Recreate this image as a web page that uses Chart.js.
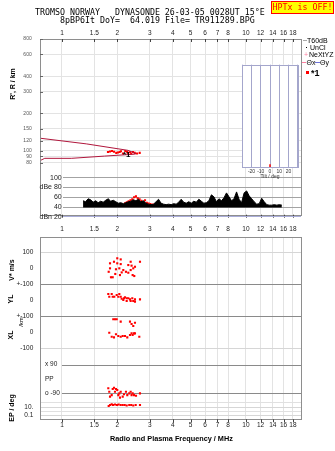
<!DOCTYPE html>
<html><head><meta charset="utf-8">
<script src="https://cdn.jsdelivr.net/npm/chart.js@4.4.1/dist/chart.umd.min.js"></script>
<style>
html,body{margin:0;padding:0;background:#fff;}
body{width:335px;height:451px;position:relative;overflow:hidden;font-family:'Liberation Sans',Arial,sans-serif;color:#000}
canvas{position:absolute}
.t{position:absolute;white-space:pre;line-height:1}
.mono{font-family:'DejaVu Sans Mono',monospace;font-size:8.3px}
.lg{position:absolute;white-space:pre;line-height:1;font-size:7px}
.rot{position:absolute;transform:rotate(-90deg);text-align:center;white-space:pre;line-height:1;font-weight:bold;font-size:7px;width:60px;height:8px}
</style></head><body>
<script>
// ---------------- data ----------------
const freqTicks = [1,1.5,2,3,4,5,6,7,8,10,12,14,16,18];
const freqTickLabels = ['1','1.5','2','3','4','5','6','7','8','10','12','14','16','18'];
const rangeTicks = [80,90,100,120,150,200,300,400,600,800];
const rangeTickLabels = ['80','90','100','120','150','200','300','400','600','800'];

// virtual-height traces (km)
const upperTraceFreq = [0.76,1.355,2.284,2.483,2.525];
const upperTraceRange = [126,113.4,100.5,95.8,94.4];
const lowerTraceFreq = [0.76,0.806,1.123,1.706,2.483,2.525];
const lowerTraceRange = [83,86.6,86.6,90.3,93.6,94.4];
// echo points (*1)
const echoFreq = [1.778,1.823,1.869,1.917,1.972,2.015,2.058,2.091,2.145,2.208,2.255,2.283,2.341,2.378,2.432,2.486,2.558,2.644];
const echoRange = [97.5,98.4,99.3,97.9,95.8,96.6,97.5,98.8,94.8,99.3,97.9,95.8,97.0,94.8,97.5,95.8,94.8,95.8];

// amplitude panel (dB)
const dbTicks = [100,80,60,40,20];
const dbTickLabels = ['100','dBe 80','60','40','dBn 20'];
const dbFreq = [1.000,1.035,1.072,1.109,1.148,1.189,1.230,1.274,1.318,1.365,
  1.413,1.462,1.514,1.567,1.622,1.679,1.738,1.799,1.862,1.928,
  1.995,2.065,2.138,2.213,2.291,2.371,2.455,2.541,2.630,2.723,
  2.818,2.917,3.020,3.126,3.236,3.350,3.467,3.589,3.715,3.846,
  3.981,4.121,4.266,4.416,4.571,4.732,4.898,5.070,5.248,5.433,
  5.623,5.821,6.026,6.237,6.457,6.683,6.918,7.161,7.413,7.674,
  7.943,8.222,8.511,8.810,9.120,9.441,9.772,10.12,10.47,10.84,
  11.22,11.61,12.02,12.45,12.88,13.34,13.80,14.29,14.79,15.31];
const dbLevel = [53,51,57,55,50,53,49,52,50,54,
  57,52,54,51,48,49,47,49,51,52,
  55,53,56,51,53,48,46,45,46,51,
  56,48,46,45,46,45,47,46,50,56,
  50,48,51,48,52,50,56,52,48,49,
  53,65,61,51,57,53,59,69,61,53,
  57,71,56,49,69,73,63,57,51,46,
  47,58,51,45,44,44,45,44,45,44];
const dbEchoFreq = [1.778,1.823,1.869,1.917,1.965,2.015,2.066,2.118,2.172,2.227,2.283,2.341,2.400,2.461,2.523,2.620];
const dbEchoLevel = [48,50,52,54,56,60,62,58,56,53,50,54,49,47,46,45];

// lower panel
const vTicks = [100,0,-100], vTickLabels = ['100','0','+-100'];
const ylTicks = [0,-100], ylTickLabels = ['0','+-100'];
const xlTicks = [0,-100], xlTickLabels = ['0','-100'];
const ppTicks = [90,0,-90], ppTickLabels = ['x 90','PP','o -90'];
const epTicks = [100,10,1,0.1], epTickLabels = ['','10.','','0.1'];

const vFreq = [1.794,1.824,1.824,1.846,1.886,1.917,1.948,1.965,1.997,1.997,2.049,2.066,2.085,2.085,2.111,2.154,2.227,2.293,2.293,2.362,2.362,2.389,2.421,2.440,2.471,2.493,2.654];
const vVel  = [-22,32,0,-57,-57,42,-36,-6,64,32,0,-43,57,27,-26,-11,-22,21,-28,42,-11,17,-43,0,-49,10,42];
const ylFreq = [1.785,1.807,1.863,1.887,1.924,1.983,2.023,2.049,2.085,2.111,2.154,2.173,2.200,2.247,2.247,2.293,2.342,2.362,2.410,2.440,2.493,2.493,2.654];
const ylVal  = [39,22,39,22,22,33,22,39,22,10,2,13,19,13,-4,13,6,-4,13,-4,6,-8,6];
const xlFreq = [1.900,1.941,1.983,2.085,2.342,2.389,2.493,2.440,1.807,1.863,1.917,1.965,2.023,2.085,2.138,2.200,2.264,2.342,2.421,2.493,2.631,2.389,2.462];
const xlVal  = [84,84,84,69,69,54,62,42,0,-25,-29,-10,-21,-25,-21,-21,-29,-14,-14,-4,-25,-4,-4];
const ppFreq = [1.785,1.807,1.824,1.863,1.887,1.917,1.941,1.965,1.997,2.023,2.049,2.066,2.085,2.138,2.173,2.227,2.264,2.321,2.362,2.389,2.421,2.462,2.525,2.654];
const ppVal  = [-58,-80,-111,-101,-63,-55,-80,-63,-69,-101,-90,-117,-80,-111,-96,-80,-101,-90,-80,-101,-90,-101,-105,-90];
const epFreq = [1.794,1.824,1.863,1.892,1.941,1.990,2.033,2.085,2.138,2.192,2.247,2.321,2.378,2.440,2.515,2.654];
const epVal  = [17,30,45,30,40,30,40,30,30,30,23,30,30,23,30,30];

// tilt inset
const tiltTicks = [-30,-20,-10,0,10,20,30];
const tiltTickLabels = ['','-20','-10','0','10','20',''];
const tiltAngle = [0,0];
const tiltCount = [0,3];

// axis limits
const freqMin = 0.7594, freqMax = 19.91;

// ---------------- setup ----------------
Chart.defaults.font.family = "'Liberation Sans', Arial, sans-serif";
Chart.defaults.animation = false;
Chart.defaults.responsive = false;
Chart.defaults.devicePixelRatio = 1;
Chart.defaults.events = [];
Chart.defaults.plugins.legend.display = false;
Chart.defaults.plugins.tooltip.enabled = false;

const pts = (xs, ys) => xs.map((x, i) => ({x, y: ys[i]}));
const BOX = '#8e8e8e', LIGHT = '#e3e3e3', DARK = '#8a8a8a', NONE = 'rgba(0,0,0,0)';

const deco = {
  id: 'deco',
  beforeDraw(chart, a, o) {
    if (o.fill) { const ca = chart.chartArea, c = chart.ctx; c.save(); c.fillStyle = o.fill; c.fillRect(ca.left, ca.top, ca.right - ca.left, ca.bottom - ca.top); c.restore(); }
  },
  beforeDatasetsDraw(chart, a, o) {
    const c = chart.ctx;
    (o.refLines || []).forEach(r => {
      const py = Math.round(chart.scales[r.y].getPixelForValue(r.value)) + 0.5;
      const px = chart.scales.x.getPixelForValue(r.from);
      c.save(); c.strokeStyle = r.color; c.lineWidth = 1;
      c.beginPath(); c.moveTo(px, py); c.lineTo(chart.chartArea.right, py); c.stroke(); c.restore();
    });
  },
  afterDraw(chart, a, o) {
    const c = chart.ctx, ca = chart.chartArea;
    c.save();
    if (o.box) {
      c.strokeStyle = o.box; c.lineWidth = 1;
      const l = Math.round(ca.left), t = Math.round(ca.top);
      c.strokeRect(l + 0.5, t + 0.5, Math.round(ca.right) - l, Math.round(ca.bottom) - t);
    }
    (o.ticks || []).forEach(tk => {
      const s = chart.scales[tk.scale];
      c.strokeStyle = tk.color || '#555'; c.lineWidth = 1;
      tk.values.forEach(v => {
        const p = Math.round(s.getPixelForValue(v)) + 0.5;
        c.beginPath();
        if (tk.side === 'top') { c.moveTo(p, ca.top); c.lineTo(p, ca.top + tk.len); }
        else if (tk.side === 'bottom') { c.moveTo(p, ca.bottom); c.lineTo(p, ca.bottom + tk.len); }
        else { c.moveTo(ca.left, p); c.lineTo(ca.left + tk.len, p); }
        c.stroke();
      });
    });
    (o.labels || []).forEach(l => {
      c.font = l.font; c.fillStyle = l.color; c.textAlign = 'left'; c.textBaseline = 'middle';
      c.fillText(l.text, chart.scales.x.getPixelForValue(l.x), chart.scales[l.y].getPixelForValue(l.value));
    });
    c.restore();
  }
};
Chart.register(deco);

function mk(left, top, w, h) {
  const c = document.createElement('canvas');
  c.width = w; c.height = h; c.style.left = left + 'px'; c.style.top = top + 'px';
  document.body.appendChild(c); return c;
}
const setTicks = arr => s => { s.ticks = arr.map(v => ({value: v})); };
const freqAxis = (pos, h, pad, grid) => ({
  type: 'logarithmic', position: pos, min: freqMin, max: freqMax,
  afterBuildTicks: setTicks(freqTicks), afterFit: s => { s.height = h; },
  ticks: {callback: (v, i) => freqTickLabels[i], autoSkip: false, maxRotation: 0, font: {size: 6.5}, color: '#222', padding: pad},
  grid: grid ? {color: LIGHT, drawTicks: false} : {display: false, drawTicks: false},
  border: {color: BOX}
});

// ---------- Chart A : virtual height ----------
const cA = mk(0, 0, 335, 226);
new Chart(cA, {
  type: 'scatter',
  data: {datasets: [
    {data: pts(upperTraceFreq, upperTraceRange), showLine: true, borderColor: '#b0163c', borderWidth: 1, pointRadius: 0},
    {data: pts(lowerTraceFreq, lowerTraceRange), showLine: true, borderColor: '#b0163c', borderWidth: 1, pointRadius: 0},
    {data: pts(echoFreq, echoRange), pointStyle: 'rect', pointRadius: 1.5, backgroundColor: '#ff0000', borderWidth: 0}
  ]},
  options: {
    layout: {padding: {left: 0, right: 34, top: 0, bottom: 4}},
    plugins: {deco: {
      box: BOX,
      ticks: [{scale: 'x', values: freqTicks, side: 'top', len: 3, color: '#444'},
              {scale: 'x', values: freqTicks, side: 'bottom', len: 3, color: '#444'},
              {scale: 'y', values: rangeTicks, side: 'left', len: 3, color: '#666'}],
      labels: [{text: '*1', x: 2.145, y: 'y', value: 91.9, font: 'bold 8px "Liberation Sans"', color: '#000'}]
    }},
    scales: {
      x: freqAxis('top', 39, 2, true),
      y: {type: 'logarithmic', min: 30.3, max: 800,
        afterBuildTicks: setTicks(rangeTicks), afterFit: s => { s.width = 40; },
        ticks: {callback: (v, i) => rangeTickLabels[i], autoSkip: false, font: {size: 5}, color: '#555', padding: 8.3},
        grid: {color: LIGHT, drawTicks: false}, border: {color: BOX}}
    }
  }
});

// ---------- Chart B : amplitude ----------
const cB = mk(0, 170, 335, 56);
new Chart(cB, {
  type: 'scatter',
  data: {datasets: [
    {type: 'line', data: pts(dbFreq, dbLevel), borderColor: '#000', borderWidth: 1, backgroundColor: '#000', fill: {value: 39}, pointRadius: 0, tension: 0},
    {data: pts(dbEchoFreq, dbEchoLevel), pointStyle: 'rect', pointRadius: 1.5, backgroundColor: '#ff0000', borderWidth: 0}
  ]},
  options: {
    layout: {padding: {left: 0, right: 34, top: 7.7, bottom: 4}},
    scales: {
      x: {type: 'logarithmic', display: false, min: freqMin, max: freqMax},
      y: {min: 12.7, max: 100, afterBuildTicks: setTicks(dbTicks), afterFit: s => { s.width = 63; },
        ticks: {callback: (v, i) => dbTickLabels[i], autoSkip: false, font: {size: 7}, color: '#222', padding: 1.3},
        grid: {color: c => (c.tick && c.tick.value === 20) ? '#a9acd8' : '#a3a3a3', drawTicks: false},
        border: {display: false}}
    }
  }
});

// ---------- Chart D : tilt inset ----------
const cD = mk(236, 60, 66, 120);
new Chart(cD, {
  type: 'scatter',
  data: {datasets: [{data: pts(tiltAngle, tiltCount), showLine: true, borderColor: '#ff0000', borderWidth: 1.5, pointRadius: 0}]},
  options: {
    layout: {padding: {left: 6.3, right: 4.3, top: 4.7, bottom: 0}},
    plugins: {deco: {fill: '#ffffff', box: '#a4a6cc'}},
    scales: {
      x: {type: 'linear', min: -30, max: 30, afterBuildTicks: setTicks(tiltTicks), afterFit: s => { s.height = 12.7; },
        ticks: {callback: (v, i) => tiltTickLabels[i], autoSkip: false, maxRotation: 0, font: {size: 5}, color: '#333', padding: 1},
        grid: {color: '#a4a6cc', drawTicks: false}, border: {display: false},
        title: {display: true, text: 'Tilt / deg', font: {size: 5}, color: '#333', padding: 0}},
      y: {display: false, min: 0, max: 100}
    }
  }
});

// ---------- Chart C : lower panel ----------
const cC = mk(0, 224, 335, 227);
const redPts = (xs, ys, id) => ({data: pts(xs, ys), yAxisID: id, pointStyle: 'rect', pointRadius: 1.5, backgroundColor: '#ff0000', borderWidth: 0});
const yStack = (ticks, labels, colors, min, max, weight, sw, extra) => Object.assign({
  type: 'linear', position: 'left', stack: 'low', stackWeight: sw, weight: weight, min: min, max: max,
  afterBuildTicks: setTicks(ticks), afterFit: s => { s.width = 40; },
  ticks: {callback: (v, i) => labels[i], autoSkip: false, font: {size: 6.5}, color: '#222', padding: 6.7},
  grid: {color: c => colors[ticks.indexOf(c.tick ? c.tick.value : NaN)] || NONE, drawTicks: false},
  border: {color: BOX}
}, extra || {});
new Chart(cC, {
  type: 'scatter',
  data: {datasets: [
    redPts(vFreq, vVel, 'yV'), redPts(ylFreq, ylVal, 'yYL'), redPts(xlFreq, xlVal, 'yXL'),
    redPts(ppFreq, ppVal, 'yPP'), redPts(epFreq, epVal, 'yEP')
  ]},
  options: {
    layout: {padding: {left: 0, right: 34, top: 0, bottom: 0}},
    plugins: {deco: {
      box: BOX,
      ticks: [{scale: 'x', values: freqTicks, side: 'bottom', len: 3, color: '#444'}],
      refLines: [{y: 'yPP', value: 90, from: 1, color: DARK}, {y: 'yPP', value: -90, from: 1, color: DARK}]
    }},
    scales: {
      x: freqAxis('bottom', 31.7, 2.3, true),
      x2: freqAxis('top', 13, 3.8, false),
      yV: yStack(vTicks, vTickLabels, ['#d6d6d6', NONE, DARK], -100, 200, 5, 47),
      yYL: yStack(ylTicks, ylTickLabels, [NONE, DARK], -100, 100, 4, 32.7),
      yXL: yStack(xlTicks, xlTickLabels, [NONE, '#d6d6d6'], -200, 100, 3, 48),
      yPP: yStack(ppTicks, ppTickLabels, [NONE, NONE, NONE], -135, 90, 2, 35.8,
        {ticks: {callback: (v, i) => ppTickLabels[i], autoSkip: false, font: {size: 6.5}, color: '#222', padding: 5, mirror: true}}),
      yEP: yStack(epTicks, epTickLabels, ['#e0e0e0', '#d6d6d6', '#e0e0e0', '#d6d6d6'], 0.0109, 368, 1, 18.8, {type: 'logarithmic'})
    }
  }
});
</script>

<div class="t mono" style="left:35px;top:8px">TROMSO NORWAY   DYNASONDE 26-03-05 0028UT 15°E</div>
<div class="t mono" style="left:60px;top:16px">8pBP6It DoY=  64.019 File= TR911289.BPG</div>
<div class="t mono" style="left:271px;top:1px;width:61px;height:11px;background:#ffff00;border:1px solid #ff0000;color:#ff0000;line-height:11px;text-align:center">HPTx is OFF!</div>

<!-- legend -->
<div style="position:absolute;left:303px;top:40px;width:4px;height:1px;background:#aaa"></div>
<div class="lg" style="left:307px;top:37px">T60dB</div>
<div style="position:absolute;left:306px;top:47px;width:1px;height:1px;background:#000"></div>
<div class="lg" style="left:310px;top:44px">UnCl</div>
<div class="lg" style="left:304px;top:51px;color:#ff7fa0">+</div>
<div class="lg" style="left:309px;top:51px">NeXtYZ</div>
<div style="position:absolute;left:302px;top:62px;width:4px;height:1px;background:#ff7fa0"></div>
<div class="lg" style="left:306.5px;top:58.5px">Θx</div>
<div style="position:absolute;left:315px;top:62px;width:5px;height:1px;background:#6f74d8"></div>
<div class="lg" style="left:320px;top:58.5px">Θy</div>
<div style="position:absolute;left:306px;top:71px;width:3px;height:3px;background:#ff0000"></div>
<div class="lg" style="left:311px;top:68.5px;font-size:9px;font-weight:bold">*1</div>

<!-- axis titles -->
<div class="rot" style="left:-17px;top:80px">R', R / km</div>
<div class="rot" style="left:-18px;top:266px">V* m/s</div>
<div class="rot" style="left:-19px;top:295px">YL</div>
<div class="rot" style="left:-8px;top:318px;font-weight:normal;font-size:6px">/km</div>
<div class="rot" style="left:-19px;top:331px">XL</div>
<div class="rot" style="left:-18px;top:404px">EP / deg</div>
<div class="t" style="left:110px;top:435px;font-size:7.3px;font-weight:bold">Radio and Plasma Frequency / MHz</div>
</body></html>
